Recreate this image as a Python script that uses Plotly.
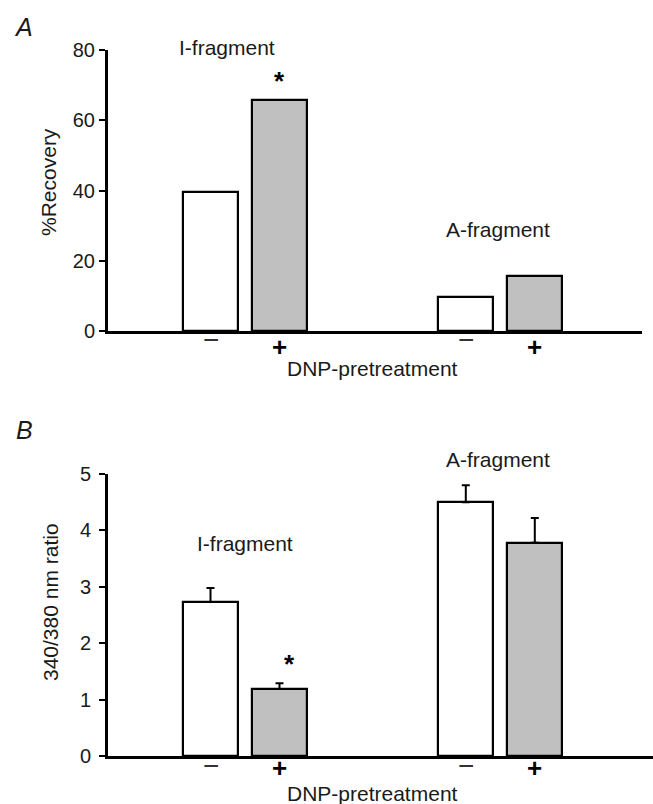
import plotly.graph_objects as go

# ---------------- data ----------------
groups = ["I-fragment", "A-fragment"]
treat_labels = ["−", "+"]

# Panel A: % recovery
recovery_minus = [39.7, 9.7]
recovery_plus = [65.8, 15.7]

# Panel B: 340/380 nm ratio (mean, SEM)
ratio_minus = [2.73, 4.50]
ratio_minus_err = [0.25, 0.30]
ratio_plus = [1.19, 3.78]
ratio_plus_err = [0.10, 0.44]

yticksA = [0, 20, 40, 60, 80]
yticksB = [0, 1, 2, 3, 4, 5]

# ---------------- layout helpers ----------------
W, H = 653, 804
FONT = "Liberation Sans, Arial, sans-serif"
TXT = "#1a1a1a"
GRAY = "#c0c0c0"

group_pos = [0.0, 3.7]
bar_gap = 1.0
bar_w = 0.8
x_minus = [g for g in group_pos]
x_plus = [g + bar_gap for g in group_pos]

px_per_unit = 69.0
x_origin_px = 210.5


def xr(left_px, right_px):
    return [(left_px - x_origin_px) / px_per_unit, (right_px - x_origin_px) / px_per_unit]


def px(x):
    return x / W


def py(y):
    return 1 - y / H


fig = go.Figure()
bar_line = dict(color="black", width=2.2)

fig.add_trace(go.Bar(x=x_minus, y=recovery_minus, width=bar_w, marker=dict(color="white", line=bar_line),
                     xaxis="x", yaxis="y", showlegend=False))
fig.add_trace(go.Bar(x=x_plus, y=recovery_plus, width=bar_w, marker=dict(color=GRAY, line=bar_line),
                     xaxis="x", yaxis="y", showlegend=False))

err_style = dict(type="data", symmetric=False, color="black", thickness=2, width=4)
fig.add_trace(go.Bar(x=x_minus, y=ratio_minus, width=bar_w, marker=dict(color="white", line=bar_line),
                     error_y=dict(array=ratio_minus_err, arrayminus=[0, 0], **err_style),
                     xaxis="x2", yaxis="y2", showlegend=False))
fig.add_trace(go.Bar(x=x_plus, y=ratio_plus, width=bar_w, marker=dict(color=GRAY, line=bar_line),
                     error_y=dict(array=ratio_plus_err, arrayminus=[0, 0], **err_style),
                     xaxis="x2", yaxis="y2", showlegend=False))

common_x = dict(showline=True, linecolor="black", linewidth=3, showgrid=False, zeroline=False,
                ticks="", showticklabels=False, automargin=False)
common_y = dict(showline=True, linecolor="black", linewidth=3, showgrid=False, zeroline=False,
                ticks="outside", ticklen=6, tickwidth=2, tickcolor="black", automargin=False,
                tickfont=dict(family=FONT, size=20, color=TXT))

fig.update_layout(
    template="none",
    width=W, height=H, autosize=False,
    margin=dict(l=0, r=0, t=0, b=0, pad=0, autoexpand=False),
    paper_bgcolor="white", plot_bgcolor="white",
    bargap=0,
    font=dict(family=FONT, color=TXT),
    xaxis=dict(domain=[px(108), px(642)], range=xr(108, 642), anchor="y", **common_x),
    yaxis=dict(domain=[py(331), py(50)], range=[0, 80], tickvals=yticksA, anchor="x", **common_y),
    xaxis2=dict(domain=[px(108), 1.0], range=xr(108, 653), anchor="y2", **common_x),
    yaxis2=dict(domain=[py(756), py(474)], range=[0, 5], tickvals=yticksB, anchor="x2",
                ticklabelstandoff=4, **common_y),
)

ann = []
lab = dict(family=FONT, size=21, color=TXT)
letter = dict(family=FONT, size=25, color=TXT)


def paper_text(text, x, y, font, **kw):
    d = dict(text=text, x=px(x), y=py(y), xref="paper", yref="paper", showarrow=False,
             xanchor="center", yanchor="middle", font=font)
    d.update(kw)
    return d


ann.append(paper_text("<i>A</i>", 23, 27, letter))
ann.append(paper_text("<i>B</i>", 24, 430, letter))
ann.append(paper_text("%Recovery", 48, 182, lab, textangle=-90))
ann.append(paper_text("340/380 nm ratio", 50, 602, lab, textangle=-90))
ann.append(paper_text("DNP-pretreatment", 372, 369, lab))
ann.append(paper_text("DNP-pretreatment", 372, 793, lab))
ann.append(paper_text(groups[0], 227, 48, lab))
ann.append(paper_text(groups[1], 498, 230, lab))
ann.append(paper_text(groups[0], 245, 543, lab))
ann.append(paper_text(groups[1], 498, 460, lab))

# treatment labels under each bar (x in data coords)
minus_font = dict(family=FONT, size=28, color="#333333")
plus_font = dict(family=FONT, size=26, color="black")
for xa, ym, yp in (("x", 340, 347), ("x2", 765, 768)):
    for xm, xp_ in zip(x_minus, x_plus):
        ann.append(dict(text=treat_labels[0], x=xm, y=py(ym), xref=xa, yref="paper", showarrow=False,
                        xanchor="center", yanchor="middle", font=minus_font))
        ann.append(dict(text="<b>" + treat_labels[1] + "</b>", x=xp_, y=py(yp), xref=xa, yref="paper",
                        showarrow=False, xanchor="center", yanchor="middle", font=plus_font))

star = dict(family=FONT, size=26, color="black")
ann.append(dict(text="<b>*</b>", x=x_plus[0], y=recovery_plus[0], xref="x", yref="y", showarrow=False,
                yanchor="bottom", yshift=2, font=star))
ann.append(dict(text="<b>*</b>", x=x_plus[0] + 0.15, y=ratio_plus[0] + ratio_plus_err[0], xref="x2", yref="y2",
                showarrow=False, yanchor="bottom", yshift=2, font=star))
fig.update_layout(annotations=ann)

fig.write_html("out.html", config={"displayModeBar": False},
               post_script="document.body.style.margin='0';document.body.style.overflow='hidden';")
